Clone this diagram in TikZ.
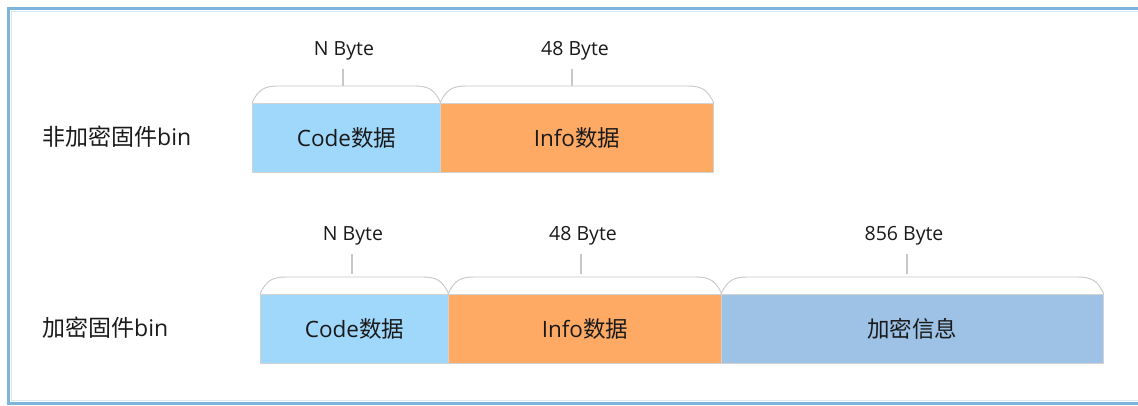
\documentclass[tikz,border=0pt]{standalone}
\usepackage{fontspec}
\setmainfont{Open Sans}
\newfontfamily\zhfont{Noto Sans CJK SC}
\newcommand\zh[1]{{\zhfont #1}}
\usetikzlibrary{calc,backgrounds}

\definecolor{frameblue}{HTML}{7DB5DE}
\definecolor{framelight}{HTML}{D8E9F6}
\definecolor{codeblue}{HTML}{A0D8FB}
\definecolor{infoorange}{HTML}{FEAA64}
\definecolor{encblue}{HTML}{9DC2E5}
\definecolor{edgegray}{HTML}{D2D2D2}
\definecolor{bracegray}{HTML}{C8C8C8}
\definecolor{inkblack}{HTML}{1A1A1A}

\tikzset{
  x=1pt, y=-1pt,
  segment/.style={draw=edgegray, line width=0.8pt, minimum height=69pt,
    anchor=north west, inner sep=0pt, text=inkblack,
    font=\fontsize{22.5}{26}\selectfont},
  rowlabel/.style={anchor=west, inner sep=0pt, text=inkblack,
    font=\fontsize{23}{27}\selectfont},
  bytelabel/.style={anchor=base, inner sep=0pt, text=inkblack,
    font=\fontsize{19.5}{23}\selectfont},
  brace/.style={draw=bracegray, line width=0.9pt},
  tick/.style={draw=bracegray, line width=1.2pt},
}

% rounded cap above a segment, 17pt high
\newcommand\capover[1]{%
  \draw[brace] (#1.north west)
    .. controls +(6,-13) and +(-14,0) .. ($(#1.north west)+(26,-17)$)
    -- ($(#1.north east)+(-26,-17)$)
    .. controls +(14,0) and +(-6,-13) .. (#1.north east);}

% soft shadow under a segment
\newcommand\softshadow[1]{%
  \foreach \k in {1,...,7}{%
    \fill[black, opacity=0.018]
      ($(#1.north west)+(-1+0.6*\k,-1+0.8*\k)$) rectangle
      ($(#1.south east)+(0.9*\k,0.9*\k)$);}}

\begin{document}
\begin{tikzpicture}
\useasboundingbox (0,0) rectangle (1138,405);
\fill[white] (0,0) rectangle (1138,405);

% outer frame
\draw[framelight, line width=1pt] (11,11) rectangle (1160,400.5);
\draw[frameblue, line width=2.6pt] (8.3,8.3) rectangle (1160,403.3);

% ---- plain firmware ----
\node[rowlabel] (plain) at (42,137) {\zh{非加密固件}bin};
\node[segment, fill=codeblue, minimum width=188pt] (pcode) at (252,103) {Code\zh{数据}};
\node[segment, fill=infoorange, minimum width=273pt] (pinfo) at (440,103) {Info\zh{数据}};

\capover{pcode}
\capover{pinfo}

\node[bytelabel] (pcodesz) at (344,55) {N Byte};
\node[bytelabel] (pinfosz) at (575,55) {48 Byte};
\coordinate (pcodet) at (343,69);
\coordinate (pcodeb) at (343,86);
\coordinate (pinfot) at (572,69);
\coordinate (pinfob) at (572,86);
\draw[tick] (pcodet) -- (pcodeb);
\draw[tick] (pinfot) -- (pinfob);

% ---- encrypted firmware ----
\node[rowlabel] (enc) at (42,328) {\zh{加密固件}bin};
\node[segment, fill=codeblue, minimum width=188pt] (ecode) at (260,294) {Code\zh{数据}};
\node[segment, fill=infoorange, minimum width=273pt] (einfo) at (448,294) {Info\zh{数据}};
\node[segment, fill=encblue, minimum width=382pt] (eenc) at (721,294) {\zh{加密信息}};

\capover{ecode}
\capover{einfo}
\capover{eenc}

\node[bytelabel] (ecodesz) at (353,240) {N Byte};
\node[bytelabel] (einfosz) at (583,240) {48 Byte};
\node[bytelabel] (eencsz) at (904,240) {856 Byte};
\coordinate (ecodet) at (352,254);
\coordinate (ecodeb) at (352,274);
\coordinate (einfot) at (581,254);
\coordinate (einfob) at (581,274);
\coordinate (eenct) at (907,254);
\coordinate (eencb) at (907,274);
\draw[tick] (ecodet) -- (ecodeb);
\draw[tick] (einfot) -- (einfob);
\draw[tick] (eenct) -- (eencb);

\begin{scope}[on background layer]
  \softshadow{pcode}
  \softshadow{pinfo}
  \softshadow{ecode}
  \softshadow{einfo}
  \softshadow{eenc}
\end{scope}
\end{tikzpicture}
\end{document}
